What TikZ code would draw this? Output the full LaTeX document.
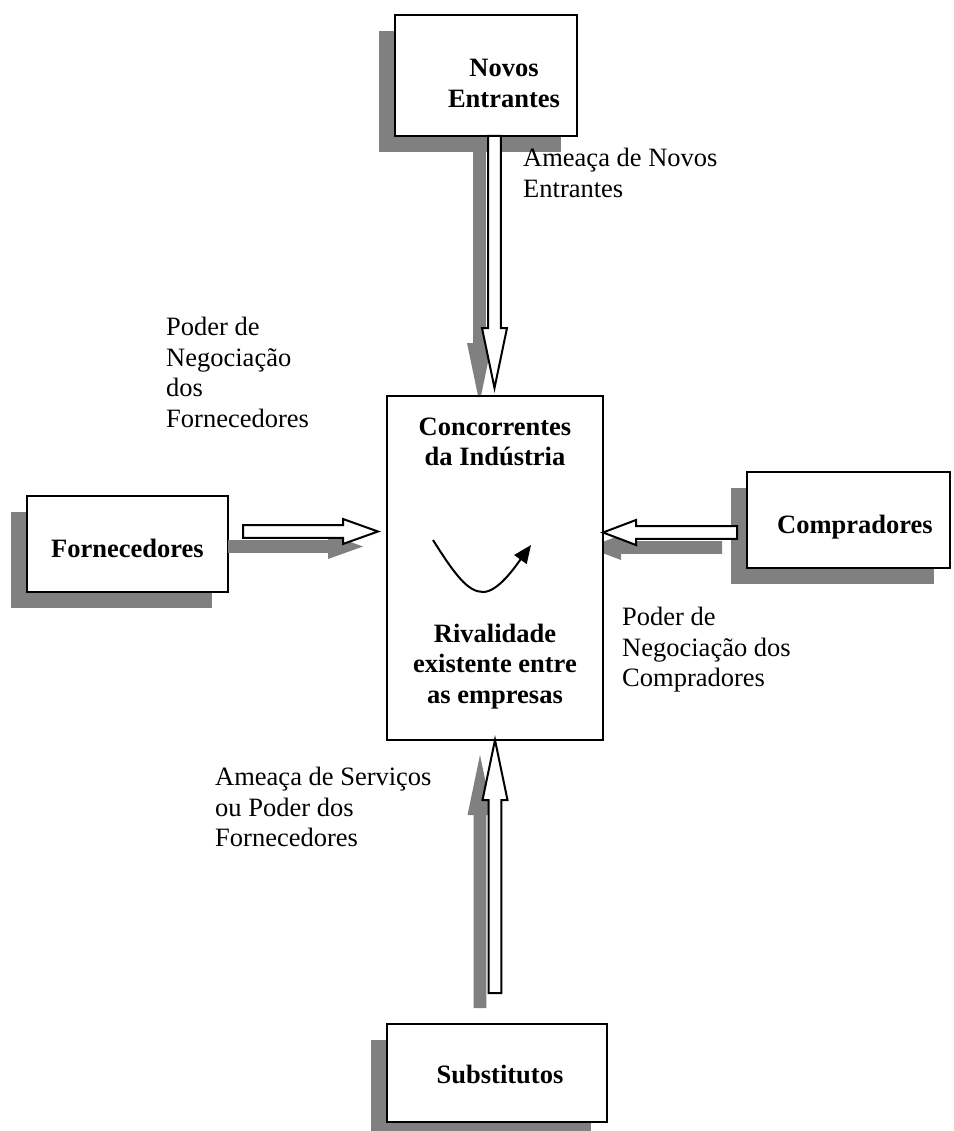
\documentclass[tikz,border=0pt]{standalone}
\usepackage{fontspec}
\setmainfont{Liberation Serif}
\usetikzlibrary{calc}
\usetikzlibrary{shadows}
\usetikzlibrary{arrows.meta}

\definecolor{shadowgray}{RGB}{128,128,128}

% hollow block arrow: #1 style, #2 tail, #3 tip, #4 head length
\newcommand{\blockarrow}[4]{%
    \coordinate (hb) at ($(#3)!#4!(#2)$);
    \path[#1] ($(#2)!6.3pt!90:(#3)$) -- ($(hb)!6.3pt!90:(#3)$) -- ($(hb)!12.5pt!90:(#3)$) -- (#3)
        -- ($(hb)!12.5pt!-90:(#3)$) -- ($(hb)!6.3pt!-90:(#3)$) -- ($(#2)!6.3pt!-90:(#3)$) -- cycle;
}
% its grey shadow, down and to the left
\newcommand{\shadowarrow}[3]{%
    \coordinate (st) at ($(#1)+(-15,15)$);
    \coordinate (sp) at ($(#2)+(-15,15)$);
    \blockarrow{grayarrow}{st}{sp}{#3}
}

\begin{document}
\begin{tikzpicture}[x = 1pt, y = -1pt,
    box/.style = {draw, line width = 2.6pt, fill = white, inner sep = 0pt,
        drop shadow = {shadow xshift = -16pt, shadow yshift = -16pt, fill = shadowgray, opacity = 1}},
    boxtext/.style = {font = \bfseries\fontsize{26.5}{30.5}\selectfont, align = center, inner sep = 0pt},
    lbl/.style = {font = \fontsize{26.5}{30.5}\selectfont, align = left, inner sep = 0pt, anchor = north west},
    whitearrow/.style = {draw, fill = white, line width = 2pt, line join = miter},
    grayarrow/.style = {fill = shadowgray}]

    \path[use as bounding box, clip] (0,0) rectangle (953,1131);

    % the four outer forces
    \node (novos) [box, minimum width = 182pt, minimum height = 121pt] at (486,75.5) {};
    \node (forn)  [box, minimum width = 201pt, minimum height = 96pt]  at (127.5,544) {};
    \node (comp)  [box, minimum width = 203pt, minimum height = 96pt]  at (848.5,520) {};
    \node (subst) [box, minimum width = 220pt, minimum height = 98pt]  at (497,1073) {};

    % arrow ends
    \coordinate (novos-tail) at (494.5,136);
    \coordinate (novos-tip)  at (494.5,388);
    \coordinate (forn-tail)  at (243,531.5);
    \coordinate (forn-tip)   at (378,531.5);
    \coordinate (comp-tail)  at (737,532.5);
    \coordinate (comp-tip)   at (603,532.5);
    \coordinate (subst-tail) at (495,993);
    \coordinate (subst-tip)  at (495,740);

    \shadowarrow{novos-tail}{novos-tip}{60pt}
    \shadowarrow{forn-tail}{forn-tip}{35pt}
    \shadowarrow{comp-tail}{comp-tip}{33pt}
    \shadowarrow{subst-tail}{subst-tip}{60pt}

    % the industry
    \node (conc) [draw, line width = 2.6pt, fill = white, minimum width = 216pt, minimum height = 344pt] at (495,568) {};

    \blockarrow{whitearrow}{novos-tail}{novos-tip}{60pt}
    \blockarrow{whitearrow}{forn-tail}{forn-tip}{35pt}
    \blockarrow{whitearrow}{comp-tail}{comp-tip}{33pt}
    \blockarrow{whitearrow}{subst-tail}{subst-tip}{60pt}

    \node [boxtext, anchor = north] at (504,59) {Novos\\Entrantes};
    \node [boxtext, anchor = base]  at ($(forn.center)+(0,13)$) {Fornecedores};
    \node [boxtext, anchor = base]  at (855,533) {Compradores};
    \node [boxtext, anchor = base]  at (500,1083) {Substitutos};
    \node [boxtext, anchor = north] at ($(conc.north)+(0,23)$) {Concorrentes\\da Indústria};
    \node [boxtext, anchor = north] at ($(conc.north)+(0,229)$) {Rivalidade\\existente entre\\as empresas};

    % rivalry curve
    \draw[line width = 2pt, -{Triangle[length = 18pt, width = 15pt]}]
        (433,540) .. controls (455,575) and (468,592) .. (483,592)
        .. controls (498,592) and (515,567) .. (531,545);

    % labels
    \node [lbl] at (523,148) {Ameaça de Novos\\Entrantes};
    \node [lbl] at (166,317) {Poder de\\Negociação\\dos\\Fornecedores};
    \node [lbl] at (622,607) {Poder de\\Negociação dos\\Compradores};
    \node [lbl] at (215,767) {Ameaça de Serviços\\ou Poder dos\\Fornecedores};

\end{tikzpicture}
\end{document}
